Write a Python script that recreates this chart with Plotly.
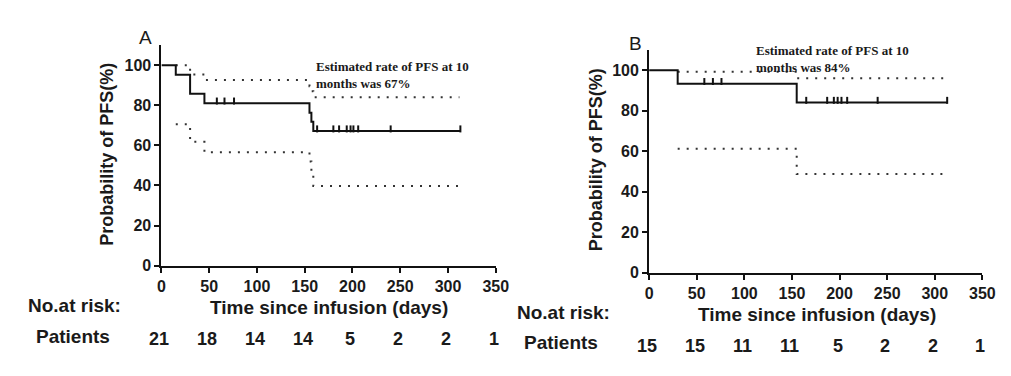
import numpy as np
import plotly.graph_objects as go

W, H = 1011, 376

# ---------------- data ----------------
# Panel A (21 patients)
A_time = [0, 15, 30, 45, 155, 157, 159, 313]
A_surv = [100, 95.2, 85.7, 81.0, 76.2, 71.8, 67.1, 67.1]
A_ci_time = [15, 30, 45, 155, 157, 159, 312]
A_upper = [100, 95.3, 92.6, 89.5, 87.0, 84.0, 84.0]
A_lower = [70.5, 61.8, 56.6, 52.0, 46.0, 39.7, 39.7]
A_censor = [58, 66, 76, 163, 180, 186, 194, 198, 201, 206, 240, 313]
A_risk = ["21", "18", "14", "14", "5", "2", "2", "1"]
A_note = "Estimated rate of PFS at 10<br>months was 67%"

# Panel B (15 patients)
B_time = [0, 30, 155, 313]
B_surv = [100, 93.3, 84.0, 84.0]
B_ci_time = [30, 155, 312]
B_upper = [99.2, 96.0, 96.0]
B_lower = [61.2, 48.7, 48.7]
B_censor = [58, 67, 76, 165, 187, 194, 198, 202, 208, 240, 313]
B_risk = ["15", "15", "11", "11", "5", "2", "2", "1"]
B_note = "Estimated rate of PFS at 10<br>months was 84%"

risk_days = [0, 50, 100, 150, 200, 250, 300, 350]
x_ticks = [0, 50, 100, 150, 200, 250, 300, 350]
y_ticks = [0, 20, 40, 60, 80, 100]

SANS = "Liberation Sans, Arial, sans-serif"
SERIF = "Liberation Serif, Times New Roman, serif"
TXT = "#1a1a1a"


def step_value(times, surv, t):
    idx = np.searchsorted(np.array(times), t, side="right") - 1
    return np.array(surv)[idx]


def px(x):
    return x / W


def py(y):
    return 1 - y / H


fig = go.Figure()


def add_panel(xr, yr, times, surv, ci_t, up, lo, cens):
    for band in (up, lo):
        fig.add_trace(go.Scatter(
            x=ci_t, y=band, mode="lines", line_shape="hv",
            line=dict(color="#333333", width=2, dash="2px,7px"),
            xaxis=xr, yaxis=yr, showlegend=False, hoverinfo="skip",
            cliponaxis=False))
    fig.add_trace(go.Scatter(
        x=times, y=surv, mode="lines", line_shape="hv",
        line=dict(color="#111111", width=2),
        xaxis=xr, yaxis=yr, showlegend=False, cliponaxis=False))
    cy = step_value(times, surv, np.array(cens)) + 1.1
    fig.add_trace(go.Scatter(
        x=cens, y=cy, mode="markers",
        marker=dict(symbol="line-ns", size=5, line=dict(color="#111111", width=2)),
        xaxis=xr, yaxis=yr, showlegend=False, cliponaxis=False))


add_panel("x", "y", A_time, A_surv, A_ci_time, A_upper, A_lower, A_censor)
add_panel("x2", "y2", B_time, B_surv, B_ci_time, B_upper, B_lower, B_censor)

axis_common = dict(
    showgrid=False, zeroline=False, showline=True, linecolor="#111111",
    linewidth=2, ticks="outside", ticklen=5, tickwidth=2, tickcolor="#111111",
    tickfont=dict(family=SANS, size=16, color=TXT, weight="bold"),
)

fig.update_layout(
    width=W, height=H, margin=dict(l=0, r=0, t=0, b=0),
    paper_bgcolor="white", plot_bgcolor="white", showlegend=False,
    xaxis=dict(domain=[px(152), px(492)], range=[0, 350], tickvals=x_ticks,
               anchor="y", **axis_common),
    yaxis=dict(domain=[py(264), py(38)], range=[0, 110], tickvals=y_ticks,
               anchor="x", **axis_common),
    xaxis2=dict(domain=[px(648), px(987)], range=[0, 350], tickvals=x_ticks,
                anchor="y2", **axis_common),
    yaxis2=dict(domain=[py(271), py(43)], range=[0, 110], tickvals=y_ticks,
                anchor="x2", **axis_common),
)

ann = []
lab_font = dict(family=SANS, size=18, color=TXT, weight="bold")


def txt(x, y, text, size=19, xanchor="center", bold=True, family=SANS, **kw):
    f = dict(family=family, size=size, color=TXT)
    if bold:
        f["weight"] = "bold"
    d = dict(x=px(x), y=py(y), xref="paper", yref="paper", text=text,
             showarrow=False, xanchor=xanchor, yanchor="middle", font=f)
    d.update(kw)
    ann.append(d)


# panel A texts
txt(136, 30, "A", size=19, bold=False)
txt(97, 150, "Probability of PFS(%)", size=18, textangle=-90)
txt(322, 307, "Time since infusion (days)", size=19)
txt(14, 305, "No.at risk:", size=19, xanchor="left")
txt(22, 337, "Patients", size=19, xanchor="left")
txt(307, 69, A_note, size=13, xanchor="left", family=SERIF, align="left")

# panel B texts
txt(634, 36, "B", size=19, bold=False)
txt(594, 156, "Probability of PFS(%)", size=18, textangle=-90)
txt(819, 314, "Time since infusion (days)", size=19)
txt(512, 312, "No.at risk:", size=19, xanchor="left")
txt(519, 343, "Patients", size=19, xanchor="left")
txt(755, 52, B_note, size=13, xanchor="left", family=SERIF, align="left")

for xref, vals, ypix in (("x", A_risk, 339), ("x2", B_risk, 346)):
    for d, v in zip(risk_days, vals):
        ann.append(dict(x=d, y=py(ypix), xref=xref, yref="paper", text=v,
                        showarrow=False, xanchor="center", yanchor="middle",
                        xshift=-2, font=lab_font))

fig.update_layout(annotations=ann)
fig.write_html("out.html")
